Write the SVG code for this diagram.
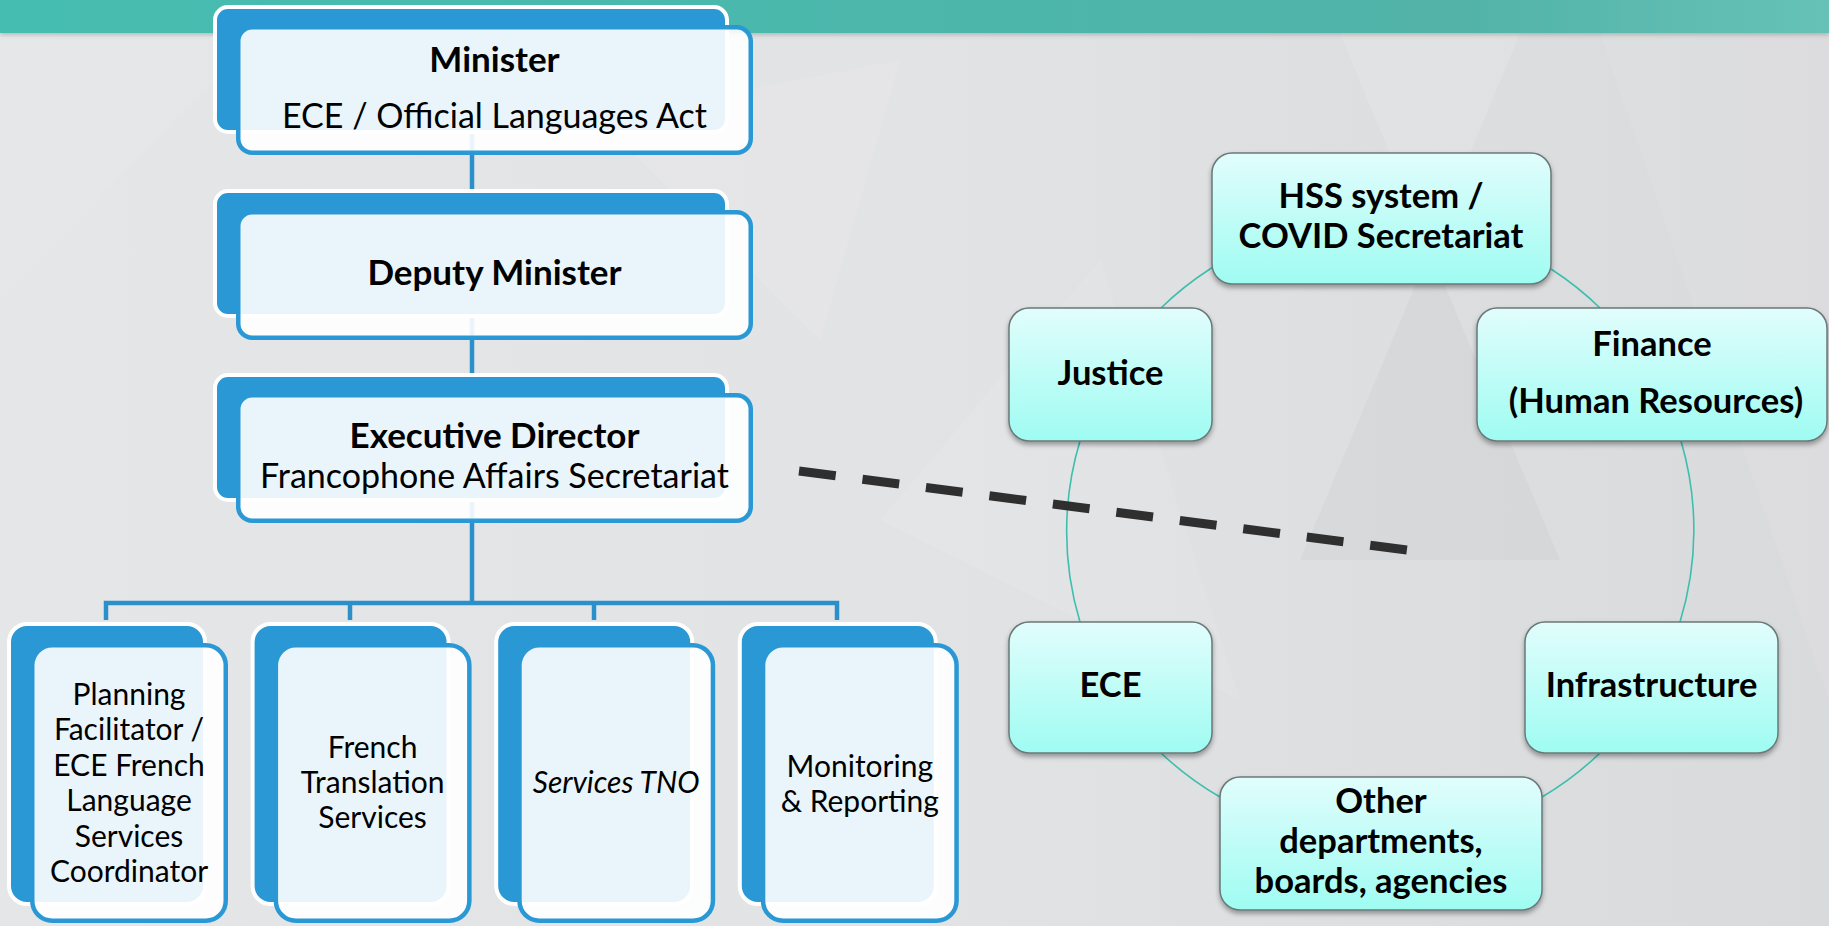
<svg xmlns="http://www.w3.org/2000/svg" width="1829" height="926" viewBox="0 0 1829 926">
<defs>
<linearGradient id="bg" x1="0" y1="0" x2="1" y2="0">
<stop offset="0" stop-color="#e5e6e8"/>
<stop offset="0.5" stop-color="#e2e3e5"/>
<stop offset="1" stop-color="#d9dadc"/>
</linearGradient>
<linearGradient id="band" x1="0" y1="0" x2="1" y2="0">
<stop offset="0" stop-color="#45bdb0"/>
<stop offset="0.8" stop-color="#52b3a9"/>
<stop offset="1" stop-color="#66c2b6"/>
</linearGradient>
<linearGradient id="tg" x1="0" y1="0" x2="0" y2="1">
<stop offset="0" stop-color="#e1fdfc"/>
<stop offset="1" stop-color="#9ffcf2"/>
</linearGradient>
<filter id="sh" x="-10%" y="-10%" width="120%" height="130%">
<feDropShadow dx="0" dy="3" stdDeviation="2.5" flood-color="#000" flood-opacity="0.35"/>
</filter>
<filter id="bandsh" x="0" y="0" width="100%" height="200%">
<feDropShadow dx="0" dy="2" stdDeviation="2" flood-color="#000" flood-opacity="0.2"/>
</filter>
</defs>
<style>
.back{fill:#2a98d5;stroke:#ffffff;stroke-width:4}
.front{fill:#ffffff;fill-opacity:0.9;stroke:#2a98d5;stroke-width:4.5}
.conn{stroke:#2b8fca;stroke-width:4.5;fill:none}
.arc{stroke:#3dbfae;stroke-width:1.6;fill:none}
.rn{fill:url(#tg);stroke:#6a7878;stroke-width:1.5;filter:url(#sh)}
.t{font-family:Lato,'Liberation Sans',sans-serif;fill:#000;text-anchor:middle}
.big{font-size:34px}
.bigb{font-size:35px;font-weight:700}
.sm{font-size:30px}
.rt{font-size:34.5px;font-weight:700}
.i{font-style:italic}
.dash{stroke:#2f2f2f;stroke-width:9;stroke-dasharray:37 27;fill:none}
</style>
<g id="background">
<rect x="0" y="0" width="1829" height="926" fill="url(#bg)"/>
<polygon points="1340,33 1520,33 1430,250" fill="#ffffff" opacity="0.12"/>
<polygon points="1430,250 1300,560 1560,560" fill="#000000" opacity="0.025"/>
<polygon points="1600,33 1829,33 1829,700" fill="#ffffff" opacity="0.08"/>
<polygon points="880,520 1100,260 1240,700" fill="#ffffff" opacity="0.08"/>
<polygon points="600,120 900,60 820,340" fill="#ffffff" opacity="0.1"/>
<polygon points="0,33 260,33 0,300" fill="#ffffff" opacity="0.05"/>
<rect x="0" y="0" width="1829" height="33" fill="url(#band)" filter="url(#bandsh)"/>
</g>
<g id="connectors">
<path class="conn" d="M472,130 V193 M472,315 V377 M472,498 V603 M106,620 V603 H837 V620 M350,603 V620 M594,603 V620"/>
<path class="arc" d="M1210,269 A313,313 0 0 1 1551,269"/>
<path class="arc" d="M1551,269 A313,313 0 0 1 1600,308"/>
<path class="arc" d="M1681,441 A313,313 0 0 1 1680,622"/>
<path class="arc" d="M1600,753 A313,313 0 0 1 1542,797"/>
<path class="arc" d="M1220,797 A313,313 0 0 1 1161,753"/>
<path class="arc" d="M1080,622 A313,313 0 0 1 1080,441"/>
<path class="arc" d="M1161,308 A313,313 0 0 1 1210,269"/>
</g>
<g id="minister">
<rect class="back" x="215" y="7" width="512" height="125" rx="13"/>
<rect class="front" x="238.25" y="27.25" width="512.5" height="125.5" rx="14"/>
<text class="t bigb" x="494.5" y="72">Minister</text>
<text class="t big" x="494.5" y="128">ECE / Official Languages Act</text>
</g>
<g id="deputy-minister">
<rect class="back" x="215" y="191" width="512" height="125" rx="13"/>
<rect class="front" x="238.25" y="212.25" width="512.5" height="125.5" rx="14"/>
<text class="t bigb" x="494.5" y="285">Deputy Minister</text>
</g>
<g id="executive-director">
<rect class="back" x="215" y="375" width="512" height="125" rx="13"/>
<rect class="front" x="238.25" y="395.25" width="512.5" height="125.5" rx="14"/>
<text class="t bigb" x="494.5" y="448">Executive Director</text>
<text class="t big" x="494.5" y="488">Francophone Affairs Secretariat</text>
</g>
<g id="planning-facilitator">
<rect class="back" x="9" y="624" width="196" height="280" rx="18"/>
<rect class="front" x="32.25" y="645.25" width="193.5" height="275.5" rx="20"/>
<text class="t sm" x="129" y="705">Planning</text>
<text class="t sm" x="129" y="740.4">Facilitator /</text>
<text class="t sm" x="129" y="775.8">ECE French</text>
<text class="t sm" x="129" y="811.2">Language</text>
<text class="t sm" x="129" y="846.6">Services</text>
<text class="t sm" x="129" y="882">Coordinator</text>
</g>
<g id="french-translation">
<rect class="back" x="252.6" y="624" width="196" height="280" rx="18"/>
<rect class="front" x="275.85" y="645.25" width="193.5" height="275.5" rx="20"/>
<text class="t sm" x="372.6" y="758">French</text>
<text class="t sm" x="372.6" y="793">Translation</text>
<text class="t sm" x="372.6" y="828">Services</text>
</g>
<g id="services-tno">
<rect class="back" x="496.2" y="624" width="196" height="280" rx="18"/>
<rect class="front" x="519.45" y="645.25" width="193.5" height="275.5" rx="20"/>
<text class="t sm i" x="616.2" y="793">Services TNO</text>
</g>
<g id="monitoring-reporting">
<rect class="back" x="739.8" y="624" width="196" height="280" rx="18"/>
<rect class="front" x="763.05" y="645.25" width="193.5" height="275.5" rx="20"/>
<text class="t sm" x="859.8" y="777">Monitoring</text>
<text class="t sm" x="859.8" y="812">&amp; Reporting</text>
</g>
<g id="hss">
<rect class="rn" x="1212" y="153" width="339" height="131" rx="20"/>
<text class="t rt" x="1381" y="208">HSS system /</text>
<text class="t rt" x="1381" y="248">COVID Secretariat</text>
</g>
<g id="justice">
<rect class="rn" x="1009" y="308" width="203" height="133" rx="20"/>
<text class="t rt" x="1110.5" y="385">Justice</text>
</g>
<g id="finance">
<rect class="rn" x="1477" y="308" width="350" height="133" rx="20"/>
<text class="t rt" x="1652" y="356">Finance</text>
<text class="t rt" x="1656" y="413">(Human Resources)</text>
</g>
<g id="ece">
<rect class="rn" x="1009" y="622" width="203" height="131" rx="20"/>
<text class="t rt" x="1110.5" y="697">ECE</text>
</g>
<g id="infrastructure">
<rect class="rn" x="1525" y="622" width="253" height="131" rx="20"/>
<text class="t rt" x="1651.5" y="697">Infrastructure</text>
</g>
<g id="other">
<rect class="rn" x="1220" y="777" width="322" height="133" rx="20"/>
<text class="t rt" x="1381" y="813">Other</text>
<text class="t rt" x="1381" y="853">departments,</text>
<text class="t rt" x="1381" y="893">boards, agencies</text>
</g>
<g id="dashed-link">
<line class="dash" x1="799" y1="471" x2="1407" y2="550"/>
</g>
</svg>
